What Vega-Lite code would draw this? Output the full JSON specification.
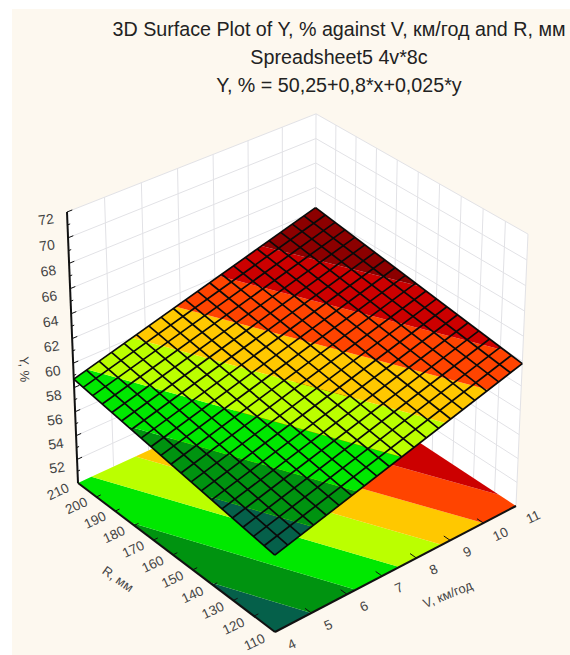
{"$schema":"https://vega.github.io/schema/vega-lite/v6.json","width":558,"height":646,"autosize":"none","padding":{"left":12,"top":9,"right":0,"bottom":0},"background":"white","view":{"fill":"#fdf8ef","stroke":null},
"title":{"text":["3D Surface Plot of Y, % against V, км/год and R, мм","Spreadsheet5 4v*8c","Y, % = 50,25+0,8*x+0,025*y"],"font":"Liberation Sans","fontSize":19.7,"fontWeight":"normal","color":"#222222","lineHeight":28,"anchor":"middle","frame":"group","dx":48,"dy":87,"offset":0},
"data":{"values":[
{"part":"wall","id":"lw","ord":0,"V":4,"R":210,"Y":50},{"part":"wall","id":"lw","ord":1,"V":11,"R":210,"Y":50},{"part":"wall","id":"lw","ord":2,"V":11,"R":210,"Y":72},{"part":"wall","id":"lw","ord":3,"V":4,"R":210,"Y":72},
{"part":"wall","id":"rw","ord":0,"V":11,"R":110,"Y":50},{"part":"wall","id":"rw","ord":1,"V":11,"R":210,"Y":50},{"part":"wall","id":"rw","ord":2,"V":11,"R":210,"Y":72},{"part":"wall","id":"rw","ord":3,"V":11,"R":110,"Y":72},

{"part":"wgrid","id":"ly52","ord":0,"V":4,"R":210,"Y":52},{"part":"wgrid","id":"ly52","ord":1,"V":11,"R":210,"Y":52},{"part":"wgrid","id":"ly54","ord":0,"V":4,"R":210,"Y":54},{"part":"wgrid","id":"ly54","ord":1,"V":11,"R":210,"Y":54},{"part":"wgrid","id":"ly56","ord":0,"V":4,"R":210,"Y":56},{"part":"wgrid","id":"ly56","ord":1,"V":11,"R":210,"Y":56},{"part":"wgrid","id":"ly58","ord":0,"V":4,"R":210,"Y":58},{"part":"wgrid","id":"ly58","ord":1,"V":11,"R":210,"Y":58},{"part":"wgrid","id":"ly60","ord":0,"V":4,"R":210,"Y":60},{"part":"wgrid","id":"ly60","ord":1,"V":11,"R":210,"Y":60},{"part":"wgrid","id":"ly62","ord":0,"V":4,"R":210,"Y":62},{"part":"wgrid","id":"ly62","ord":1,"V":11,"R":210,"Y":62},{"part":"wgrid","id":"ly64","ord":0,"V":4,"R":210,"Y":64},{"part":"wgrid","id":"ly64","ord":1,"V":11,"R":210,"Y":64},{"part":"wgrid","id":"ly66","ord":0,"V":4,"R":210,"Y":66},{"part":"wgrid","id":"ly66","ord":1,"V":11,"R":210,"Y":66},{"part":"wgrid","id":"ly68","ord":0,"V":4,"R":210,"Y":68},{"part":"wgrid","id":"ly68","ord":1,"V":11,"R":210,"Y":68},{"part":"wgrid","id":"ly70","ord":0,"V":4,"R":210,"Y":70},{"part":"wgrid","id":"ly70","ord":1,"V":11,"R":210,"Y":70},{"part":"wgrid","id":"ly72","ord":0,"V":4,"R":210,"Y":72},{"part":"wgrid","id":"ly72","ord":1,"V":11,"R":210,"Y":72},
{"part":"wgrid","id":"ry52","ord":0,"V":11,"R":110,"Y":52},{"part":"wgrid","id":"ry52","ord":1,"V":11,"R":210,"Y":52},{"part":"wgrid","id":"ry54","ord":0,"V":11,"R":110,"Y":54},{"part":"wgrid","id":"ry54","ord":1,"V":11,"R":210,"Y":54},{"part":"wgrid","id":"ry56","ord":0,"V":11,"R":110,"Y":56},{"part":"wgrid","id":"ry56","ord":1,"V":11,"R":210,"Y":56},{"part":"wgrid","id":"ry58","ord":0,"V":11,"R":110,"Y":58},{"part":"wgrid","id":"ry58","ord":1,"V":11,"R":210,"Y":58},{"part":"wgrid","id":"ry60","ord":0,"V":11,"R":110,"Y":60},{"part":"wgrid","id":"ry60","ord":1,"V":11,"R":210,"Y":60},{"part":"wgrid","id":"ry62","ord":0,"V":11,"R":110,"Y":62},{"part":"wgrid","id":"ry62","ord":1,"V":11,"R":210,"Y":62},{"part":"wgrid","id":"ry64","ord":0,"V":11,"R":110,"Y":64},{"part":"wgrid","id":"ry64","ord":1,"V":11,"R":210,"Y":64},{"part":"wgrid","id":"ry66","ord":0,"V":11,"R":110,"Y":66},{"part":"wgrid","id":"ry66","ord":1,"V":11,"R":210,"Y":66},{"part":"wgrid","id":"ry68","ord":0,"V":11,"R":110,"Y":68},{"part":"wgrid","id":"ry68","ord":1,"V":11,"R":210,"Y":68},{"part":"wgrid","id":"ry70","ord":0,"V":11,"R":110,"Y":70},{"part":"wgrid","id":"ry70","ord":1,"V":11,"R":210,"Y":70},{"part":"wgrid","id":"ry72","ord":0,"V":11,"R":110,"Y":72},{"part":"wgrid","id":"ry72","ord":1,"V":11,"R":210,"Y":72},
{"part":"wgrid","id":"lv5","ord":0,"V":5,"R":210,"Y":50},{"part":"wgrid","id":"lv5","ord":1,"V":5,"R":210,"Y":72},{"part":"wgrid","id":"lv6","ord":0,"V":6,"R":210,"Y":50},{"part":"wgrid","id":"lv6","ord":1,"V":6,"R":210,"Y":72},{"part":"wgrid","id":"lv7","ord":0,"V":7,"R":210,"Y":50},{"part":"wgrid","id":"lv7","ord":1,"V":7,"R":210,"Y":72},{"part":"wgrid","id":"lv8","ord":0,"V":8,"R":210,"Y":50},{"part":"wgrid","id":"lv8","ord":1,"V":8,"R":210,"Y":72},{"part":"wgrid","id":"lv9","ord":0,"V":9,"R":210,"Y":50},{"part":"wgrid","id":"lv9","ord":1,"V":9,"R":210,"Y":72},{"part":"wgrid","id":"lv10","ord":0,"V":10,"R":210,"Y":50},{"part":"wgrid","id":"lv10","ord":1,"V":10,"R":210,"Y":72},{"part":"wgrid","id":"lv11","ord":0,"V":11,"R":210,"Y":50},{"part":"wgrid","id":"lv11","ord":1,"V":11,"R":210,"Y":72},
{"part":"wgrid","id":"rr110","ord":0,"V":11,"R":110,"Y":50},{"part":"wgrid","id":"rr110","ord":1,"V":11,"R":110,"Y":72},{"part":"wgrid","id":"rr120","ord":0,"V":11,"R":120,"Y":50},{"part":"wgrid","id":"rr120","ord":1,"V":11,"R":120,"Y":72},{"part":"wgrid","id":"rr130","ord":0,"V":11,"R":130,"Y":50},{"part":"wgrid","id":"rr130","ord":1,"V":11,"R":130,"Y":72},{"part":"wgrid","id":"rr140","ord":0,"V":11,"R":140,"Y":50},{"part":"wgrid","id":"rr140","ord":1,"V":11,"R":140,"Y":72},{"part":"wgrid","id":"rr150","ord":0,"V":11,"R":150,"Y":50},{"part":"wgrid","id":"rr150","ord":1,"V":11,"R":150,"Y":72},{"part":"wgrid","id":"rr160","ord":0,"V":11,"R":160,"Y":50},{"part":"wgrid","id":"rr160","ord":1,"V":11,"R":160,"Y":72},{"part":"wgrid","id":"rr170","ord":0,"V":11,"R":170,"Y":50},{"part":"wgrid","id":"rr170","ord":1,"V":11,"R":170,"Y":72},{"part":"wgrid","id":"rr180","ord":0,"V":11,"R":180,"Y":50},{"part":"wgrid","id":"rr180","ord":1,"V":11,"R":180,"Y":72},{"part":"wgrid","id":"rr190","ord":0,"V":11,"R":190,"Y":50},{"part":"wgrid","id":"rr190","ord":1,"V":11,"R":190,"Y":72},{"part":"wgrid","id":"rr200","ord":0,"V":11,"R":200,"Y":50},{"part":"wgrid","id":"rr200","ord":1,"V":11,"R":200,"Y":72},

{"part":"floor","band":"b56","ord":0,"V":4,"R":110,"Y":50},{"part":"floor","band":"b56","ord":1,"V":5,"R":110,"Y":50},{"part":"floor","band":"b56","ord":2,"V":4,"R":142,"Y":50},
{"part":"floor","band":"b57","ord":0,"V":5,"R":110,"Y":50},{"part":"floor","band":"b57","ord":1,"V":6.25,"R":110,"Y":50},{"part":"floor","band":"b57","ord":2,"V":4,"R":182,"Y":50},{"part":"floor","band":"b57","ord":3,"V":4,"R":142,"Y":50},
{"part":"floor","band":"b58","ord":0,"V":6.25,"R":110,"Y":50},{"part":"floor","band":"b58","ord":1,"V":7.5,"R":110,"Y":50},{"part":"floor","band":"b58","ord":2,"V":4.375,"R":210,"Y":50},{"part":"floor","band":"b58","ord":3,"V":4,"R":210,"Y":50},{"part":"floor","band":"b58","ord":4,"V":4,"R":182,"Y":50},
{"part":"floor","band":"b59","ord":0,"V":7.5,"R":110,"Y":50},{"part":"floor","band":"b59","ord":1,"V":8.75,"R":110,"Y":50},{"part":"floor","band":"b59","ord":2,"V":5.625,"R":210,"Y":50},{"part":"floor","band":"b59","ord":3,"V":4.375,"R":210,"Y":50},
{"part":"floor","band":"b60","ord":0,"V":8.75,"R":110,"Y":50},{"part":"floor","band":"b60","ord":1,"V":10,"R":110,"Y":50},{"part":"floor","band":"b60","ord":2,"V":6.875,"R":210,"Y":50},{"part":"floor","band":"b60","ord":3,"V":5.625,"R":210,"Y":50},
{"part":"floor","band":"b61","ord":0,"V":10,"R":110,"Y":50},{"part":"floor","band":"b61","ord":1,"V":11,"R":110,"Y":50},{"part":"floor","band":"b61","ord":2,"V":11,"R":118,"Y":50},{"part":"floor","band":"b61","ord":3,"V":8.125,"R":210,"Y":50},{"part":"floor","band":"b61","ord":4,"V":6.875,"R":210,"Y":50},
{"part":"floor","band":"b62","ord":0,"V":11,"R":118,"Y":50},{"part":"floor","band":"b62","ord":1,"V":11,"R":158,"Y":50},{"part":"floor","band":"b62","ord":2,"V":9.375,"R":210,"Y":50},{"part":"floor","band":"b62","ord":3,"V":8.125,"R":210,"Y":50},
{"part":"floor","band":"b63","ord":0,"V":11,"R":158,"Y":50},{"part":"floor","band":"b63","ord":1,"V":11,"R":210,"Y":50},{"part":"floor","band":"b63","ord":2,"V":9.375,"R":210,"Y":50},

{"part":"axis","id":"ar","ord":0,"V":4,"R":110,"Y":50},{"part":"axis","id":"ar","ord":1,"V":4,"R":210,"Y":50},{"part":"axis","id":"av","ord":0,"V":4,"R":110,"Y":50},{"part":"axis","id":"av","ord":1,"V":11,"R":110,"Y":50},{"part":"axis","id":"ay","ord":0,"V":4,"R":210,"Y":50},{"part":"axis","id":"ay","ord":1,"V":4,"R":210,"Y":72},

{"part":"tick","id":"t51","ord":0,"V":4,"R":210,"Y":51},{"part":"tick","id":"t51","ord":1,"V":4.07,"R":210,"Y":51},{"part":"tick","id":"t52","ord":0,"V":4,"R":210,"Y":52},{"part":"tick","id":"t52","ord":1,"V":4.14,"R":210,"Y":52},{"part":"tick","id":"t53","ord":0,"V":4,"R":210,"Y":53},{"part":"tick","id":"t53","ord":1,"V":4.07,"R":210,"Y":53},{"part":"tick","id":"t54","ord":0,"V":4,"R":210,"Y":54},{"part":"tick","id":"t54","ord":1,"V":4.14,"R":210,"Y":54},{"part":"tick","id":"t55","ord":0,"V":4,"R":210,"Y":55},{"part":"tick","id":"t55","ord":1,"V":4.07,"R":210,"Y":55},{"part":"tick","id":"t56","ord":0,"V":4,"R":210,"Y":56},{"part":"tick","id":"t56","ord":1,"V":4.14,"R":210,"Y":56},{"part":"tick","id":"t57","ord":0,"V":4,"R":210,"Y":57},{"part":"tick","id":"t57","ord":1,"V":4.07,"R":210,"Y":57},{"part":"tick","id":"t58","ord":0,"V":4,"R":210,"Y":58},{"part":"tick","id":"t58","ord":1,"V":4.14,"R":210,"Y":58},{"part":"tick","id":"t59","ord":0,"V":4,"R":210,"Y":59},{"part":"tick","id":"t59","ord":1,"V":4.07,"R":210,"Y":59},{"part":"tick","id":"t60","ord":0,"V":4,"R":210,"Y":60},{"part":"tick","id":"t60","ord":1,"V":4.14,"R":210,"Y":60},{"part":"tick","id":"t61","ord":0,"V":4,"R":210,"Y":61},{"part":"tick","id":"t61","ord":1,"V":4.07,"R":210,"Y":61},{"part":"tick","id":"t62","ord":0,"V":4,"R":210,"Y":62},{"part":"tick","id":"t62","ord":1,"V":4.14,"R":210,"Y":62},{"part":"tick","id":"t63","ord":0,"V":4,"R":210,"Y":63},{"part":"tick","id":"t63","ord":1,"V":4.07,"R":210,"Y":63},{"part":"tick","id":"t64","ord":0,"V":4,"R":210,"Y":64},{"part":"tick","id":"t64","ord":1,"V":4.14,"R":210,"Y":64},{"part":"tick","id":"t65","ord":0,"V":4,"R":210,"Y":65},{"part":"tick","id":"t65","ord":1,"V":4.07,"R":210,"Y":65},{"part":"tick","id":"t66","ord":0,"V":4,"R":210,"Y":66},{"part":"tick","id":"t66","ord":1,"V":4.14,"R":210,"Y":66},{"part":"tick","id":"t67","ord":0,"V":4,"R":210,"Y":67},{"part":"tick","id":"t67","ord":1,"V":4.07,"R":210,"Y":67},{"part":"tick","id":"t68","ord":0,"V":4,"R":210,"Y":68},{"part":"tick","id":"t68","ord":1,"V":4.14,"R":210,"Y":68},{"part":"tick","id":"t69","ord":0,"V":4,"R":210,"Y":69},{"part":"tick","id":"t69","ord":1,"V":4.07,"R":210,"Y":69},{"part":"tick","id":"t70","ord":0,"V":4,"R":210,"Y":70},{"part":"tick","id":"t70","ord":1,"V":4.14,"R":210,"Y":70},{"part":"tick","id":"t71","ord":0,"V":4,"R":210,"Y":71},{"part":"tick","id":"t71","ord":1,"V":4.07,"R":210,"Y":71},{"part":"tick","id":"t72","ord":0,"V":4,"R":210,"Y":72},{"part":"tick","id":"t72","ord":1,"V":4.14,"R":210,"Y":72},
{"part":"tick","id":"tv5","ord":0,"V":5,"R":110,"Y":50},{"part":"tick","id":"tv5","ord":1,"V":5,"R":113,"Y":50},{"part":"tick","id":"tv6","ord":0,"V":6,"R":110,"Y":50},{"part":"tick","id":"tv6","ord":1,"V":6,"R":113,"Y":50},{"part":"tick","id":"tv7","ord":0,"V":7,"R":110,"Y":50},{"part":"tick","id":"tv7","ord":1,"V":7,"R":113,"Y":50},{"part":"tick","id":"tv8","ord":0,"V":8,"R":110,"Y":50},{"part":"tick","id":"tv8","ord":1,"V":8,"R":113,"Y":50},{"part":"tick","id":"tv9","ord":0,"V":9,"R":110,"Y":50},{"part":"tick","id":"tv9","ord":1,"V":9,"R":113,"Y":50},{"part":"tick","id":"tv10","ord":0,"V":10,"R":110,"Y":50},{"part":"tick","id":"tv10","ord":1,"V":10,"R":113,"Y":50},
{"part":"tick","id":"tr120","ord":0,"V":4,"R":120,"Y":50},{"part":"tick","id":"tr120","ord":1,"V":4.12,"R":120,"Y":50},{"part":"tick","id":"tr130","ord":0,"V":4,"R":130,"Y":50},{"part":"tick","id":"tr130","ord":1,"V":4.12,"R":130,"Y":50},{"part":"tick","id":"tr140","ord":0,"V":4,"R":140,"Y":50},{"part":"tick","id":"tr140","ord":1,"V":4.12,"R":140,"Y":50},{"part":"tick","id":"tr150","ord":0,"V":4,"R":150,"Y":50},{"part":"tick","id":"tr150","ord":1,"V":4.12,"R":150,"Y":50},{"part":"tick","id":"tr160","ord":0,"V":4,"R":160,"Y":50},{"part":"tick","id":"tr160","ord":1,"V":4.12,"R":160,"Y":50},{"part":"tick","id":"tr170","ord":0,"V":4,"R":170,"Y":50},{"part":"tick","id":"tr170","ord":1,"V":4.12,"R":170,"Y":50},{"part":"tick","id":"tr180","ord":0,"V":4,"R":180,"Y":50},{"part":"tick","id":"tr180","ord":1,"V":4.12,"R":180,"Y":50},{"part":"tick","id":"tr190","ord":0,"V":4,"R":190,"Y":50},{"part":"tick","id":"tr190","ord":1,"V":4.12,"R":190,"Y":50},{"part":"tick","id":"tr200","ord":0,"V":4,"R":200,"Y":50},{"part":"tick","id":"tr200","ord":1,"V":4.12,"R":200,"Y":50},

{"part":"surf","band":"b56","ord":0,"V":4,"R":110,"Y":56.2},{"part":"surf","band":"b56","ord":1,"V":5,"R":110,"Y":57},{"part":"surf","band":"b56","ord":2,"V":4,"R":142,"Y":57},
{"part":"surf","band":"b57","ord":0,"V":5,"R":110,"Y":57},{"part":"surf","band":"b57","ord":1,"V":6.25,"R":110,"Y":58},{"part":"surf","band":"b57","ord":2,"V":4,"R":182,"Y":58},{"part":"surf","band":"b57","ord":3,"V":4,"R":142,"Y":57},
{"part":"surf","band":"b58","ord":0,"V":6.25,"R":110,"Y":58},{"part":"surf","band":"b58","ord":1,"V":7.5,"R":110,"Y":59},{"part":"surf","band":"b58","ord":2,"V":4.375,"R":210,"Y":59},{"part":"surf","band":"b58","ord":3,"V":4,"R":210,"Y":58.7},{"part":"surf","band":"b58","ord":4,"V":4,"R":182,"Y":58},
{"part":"surf","band":"b59","ord":0,"V":7.5,"R":110,"Y":59},{"part":"surf","band":"b59","ord":1,"V":8.75,"R":110,"Y":60},{"part":"surf","band":"b59","ord":2,"V":5.625,"R":210,"Y":60},{"part":"surf","band":"b59","ord":3,"V":4.375,"R":210,"Y":59},
{"part":"surf","band":"b60","ord":0,"V":8.75,"R":110,"Y":60},{"part":"surf","band":"b60","ord":1,"V":10,"R":110,"Y":61},{"part":"surf","band":"b60","ord":2,"V":6.875,"R":210,"Y":61},{"part":"surf","band":"b60","ord":3,"V":5.625,"R":210,"Y":60},
{"part":"surf","band":"b61","ord":0,"V":10,"R":110,"Y":61},{"part":"surf","band":"b61","ord":1,"V":11,"R":110,"Y":61.8},{"part":"surf","band":"b61","ord":2,"V":11,"R":118,"Y":62},{"part":"surf","band":"b61","ord":3,"V":8.125,"R":210,"Y":62},{"part":"surf","band":"b61","ord":4,"V":6.875,"R":210,"Y":61},
{"part":"surf","band":"b62","ord":0,"V":11,"R":118,"Y":62},{"part":"surf","band":"b62","ord":1,"V":11,"R":158,"Y":63},{"part":"surf","band":"b62","ord":2,"V":9.375,"R":210,"Y":63},{"part":"surf","band":"b62","ord":3,"V":8.125,"R":210,"Y":62},
{"part":"surf","band":"b63","ord":0,"V":11,"R":158,"Y":63},{"part":"surf","band":"b63","ord":1,"V":11,"R":210,"Y":64.3},{"part":"surf","band":"b63","ord":2,"V":9.375,"R":210,"Y":63},

{"part":"sgrid","id":"v4","ord":0,"V":4,"R":110,"Y":56.2},{"part":"sgrid","id":"v4","ord":1,"V":4,"R":210,"Y":58.7},
{"part":"sgrid","id":"v4.35","ord":0,"V":4.35,"R":110,"Y":56.48},{"part":"sgrid","id":"v4.35","ord":1,"V":4.35,"R":210,"Y":58.98},
{"part":"sgrid","id":"v4.7","ord":0,"V":4.7,"R":110,"Y":56.76},{"part":"sgrid","id":"v4.7","ord":1,"V":4.7,"R":210,"Y":59.26},
{"part":"sgrid","id":"v5.05","ord":0,"V":5.05,"R":110,"Y":57.04},{"part":"sgrid","id":"v5.05","ord":1,"V":5.05,"R":210,"Y":59.54},
{"part":"sgrid","id":"v5.4","ord":0,"V":5.4,"R":110,"Y":57.32},{"part":"sgrid","id":"v5.4","ord":1,"V":5.4,"R":210,"Y":59.82},
{"part":"sgrid","id":"v5.75","ord":0,"V":5.75,"R":110,"Y":57.6},{"part":"sgrid","id":"v5.75","ord":1,"V":5.75,"R":210,"Y":60.1},
{"part":"sgrid","id":"v6.1","ord":0,"V":6.1,"R":110,"Y":57.88},{"part":"sgrid","id":"v6.1","ord":1,"V":6.1,"R":210,"Y":60.38},
{"part":"sgrid","id":"v6.45","ord":0,"V":6.45,"R":110,"Y":58.16},{"part":"sgrid","id":"v6.45","ord":1,"V":6.45,"R":210,"Y":60.66},
{"part":"sgrid","id":"v6.8","ord":0,"V":6.8,"R":110,"Y":58.44},{"part":"sgrid","id":"v6.8","ord":1,"V":6.8,"R":210,"Y":60.94},
{"part":"sgrid","id":"v7.15","ord":0,"V":7.15,"R":110,"Y":58.72},{"part":"sgrid","id":"v7.15","ord":1,"V":7.15,"R":210,"Y":61.22},
{"part":"sgrid","id":"v7.5","ord":0,"V":7.5,"R":110,"Y":59},{"part":"sgrid","id":"v7.5","ord":1,"V":7.5,"R":210,"Y":61.5},
{"part":"sgrid","id":"v7.85","ord":0,"V":7.85,"R":110,"Y":59.28},{"part":"sgrid","id":"v7.85","ord":1,"V":7.85,"R":210,"Y":61.78},
{"part":"sgrid","id":"v8.2","ord":0,"V":8.2,"R":110,"Y":59.56},{"part":"sgrid","id":"v8.2","ord":1,"V":8.2,"R":210,"Y":62.06},
{"part":"sgrid","id":"v8.55","ord":0,"V":8.55,"R":110,"Y":59.84},{"part":"sgrid","id":"v8.55","ord":1,"V":8.55,"R":210,"Y":62.34},
{"part":"sgrid","id":"v8.9","ord":0,"V":8.9,"R":110,"Y":60.12},{"part":"sgrid","id":"v8.9","ord":1,"V":8.9,"R":210,"Y":62.62},
{"part":"sgrid","id":"v9.25","ord":0,"V":9.25,"R":110,"Y":60.4},{"part":"sgrid","id":"v9.25","ord":1,"V":9.25,"R":210,"Y":62.9},
{"part":"sgrid","id":"v9.6","ord":0,"V":9.6,"R":110,"Y":60.68},{"part":"sgrid","id":"v9.6","ord":1,"V":9.6,"R":210,"Y":63.18},
{"part":"sgrid","id":"v9.95","ord":0,"V":9.95,"R":110,"Y":60.96},{"part":"sgrid","id":"v9.95","ord":1,"V":9.95,"R":210,"Y":63.46},
{"part":"sgrid","id":"v10.3","ord":0,"V":10.3,"R":110,"Y":61.24},{"part":"sgrid","id":"v10.3","ord":1,"V":10.3,"R":210,"Y":63.74},
{"part":"sgrid","id":"v10.65","ord":0,"V":10.65,"R":110,"Y":61.52},{"part":"sgrid","id":"v10.65","ord":1,"V":10.65,"R":210,"Y":64.02},
{"part":"sgrid","id":"v11","ord":0,"V":11,"R":110,"Y":61.8},{"part":"sgrid","id":"v11","ord":1,"V":11,"R":210,"Y":64.3},
{"part":"sgrid","id":"r110","ord":0,"V":4,"R":110,"Y":56.2},{"part":"sgrid","id":"r110","ord":1,"V":11,"R":110,"Y":61.8},
{"part":"sgrid","id":"r115","ord":0,"V":4,"R":115,"Y":56.325},{"part":"sgrid","id":"r115","ord":1,"V":11,"R":115,"Y":61.925},
{"part":"sgrid","id":"r120","ord":0,"V":4,"R":120,"Y":56.45},{"part":"sgrid","id":"r120","ord":1,"V":11,"R":120,"Y":62.05},
{"part":"sgrid","id":"r125","ord":0,"V":4,"R":125,"Y":56.575},{"part":"sgrid","id":"r125","ord":1,"V":11,"R":125,"Y":62.175},
{"part":"sgrid","id":"r130","ord":0,"V":4,"R":130,"Y":56.7},{"part":"sgrid","id":"r130","ord":1,"V":11,"R":130,"Y":62.3},
{"part":"sgrid","id":"r135","ord":0,"V":4,"R":135,"Y":56.825},{"part":"sgrid","id":"r135","ord":1,"V":11,"R":135,"Y":62.425},
{"part":"sgrid","id":"r140","ord":0,"V":4,"R":140,"Y":56.95},{"part":"sgrid","id":"r140","ord":1,"V":11,"R":140,"Y":62.55},
{"part":"sgrid","id":"r145","ord":0,"V":4,"R":145,"Y":57.075},{"part":"sgrid","id":"r145","ord":1,"V":11,"R":145,"Y":62.675},
{"part":"sgrid","id":"r150","ord":0,"V":4,"R":150,"Y":57.2},{"part":"sgrid","id":"r150","ord":1,"V":11,"R":150,"Y":62.8},
{"part":"sgrid","id":"r155","ord":0,"V":4,"R":155,"Y":57.325},{"part":"sgrid","id":"r155","ord":1,"V":11,"R":155,"Y":62.925},
{"part":"sgrid","id":"r160","ord":0,"V":4,"R":160,"Y":57.45},{"part":"sgrid","id":"r160","ord":1,"V":11,"R":160,"Y":63.05},
{"part":"sgrid","id":"r165","ord":0,"V":4,"R":165,"Y":57.575},{"part":"sgrid","id":"r165","ord":1,"V":11,"R":165,"Y":63.175},
{"part":"sgrid","id":"r170","ord":0,"V":4,"R":170,"Y":57.7},{"part":"sgrid","id":"r170","ord":1,"V":11,"R":170,"Y":63.3},
{"part":"sgrid","id":"r175","ord":0,"V":4,"R":175,"Y":57.825},{"part":"sgrid","id":"r175","ord":1,"V":11,"R":175,"Y":63.425},
{"part":"sgrid","id":"r180","ord":0,"V":4,"R":180,"Y":57.95},{"part":"sgrid","id":"r180","ord":1,"V":11,"R":180,"Y":63.55},
{"part":"sgrid","id":"r185","ord":0,"V":4,"R":185,"Y":58.075},{"part":"sgrid","id":"r185","ord":1,"V":11,"R":185,"Y":63.675},
{"part":"sgrid","id":"r190","ord":0,"V":4,"R":190,"Y":58.2},{"part":"sgrid","id":"r190","ord":1,"V":11,"R":190,"Y":63.8},
{"part":"sgrid","id":"r195","ord":0,"V":4,"R":195,"Y":58.325},{"part":"sgrid","id":"r195","ord":1,"V":11,"R":195,"Y":63.925},
{"part":"sgrid","id":"r200","ord":0,"V":4,"R":200,"Y":58.45},{"part":"sgrid","id":"r200","ord":1,"V":11,"R":200,"Y":64.05},
{"part":"sgrid","id":"r205","ord":0,"V":4,"R":205,"Y":58.575},{"part":"sgrid","id":"r205","ord":1,"V":11,"R":205,"Y":64.175},
{"part":"sgrid","id":"r210","ord":0,"V":4,"R":210,"Y":58.7},{"part":"sgrid","id":"r210","ord":1,"V":11,"R":210,"Y":64.3},

{"part":"ylab","label":"52","V":3.45,"R":210,"Y":52},{"part":"ylab","label":"54","V":3.45,"R":210,"Y":54},{"part":"ylab","label":"56","V":3.45,"R":210,"Y":56},{"part":"ylab","label":"58","V":3.45,"R":210,"Y":58},{"part":"ylab","label":"60","V":3.45,"R":210,"Y":60},{"part":"ylab","label":"62","V":3.45,"R":210,"Y":62},{"part":"ylab","label":"64","V":3.45,"R":210,"Y":64},{"part":"ylab","label":"66","V":3.45,"R":210,"Y":66},{"part":"ylab","label":"68","V":3.45,"R":210,"Y":68},{"part":"ylab","label":"70","V":3.45,"R":210,"Y":70},{"part":"ylab","label":"72","V":3.45,"R":210,"Y":72},
{"part":"rlab","label":"110","V":3.45,"R":110,"Y":50},{"part":"rlab","label":"120","V":3.45,"R":120,"Y":50},{"part":"rlab","label":"130","V":3.45,"R":130,"Y":50},{"part":"rlab","label":"140","V":3.45,"R":140,"Y":50},{"part":"rlab","label":"150","V":3.45,"R":150,"Y":50},{"part":"rlab","label":"160","V":3.45,"R":160,"Y":50},{"part":"rlab","label":"170","V":3.45,"R":170,"Y":50},{"part":"rlab","label":"180","V":3.45,"R":180,"Y":50},{"part":"rlab","label":"190","V":3.45,"R":190,"Y":50},{"part":"rlab","label":"200","V":3.45,"R":200,"Y":50},{"part":"rlab","label":"210","V":3.45,"R":210,"Y":50},
{"part":"vlab","label":"4","V":4,"R":102,"Y":50},{"part":"vlab","label":"5","V":5,"R":102,"Y":50},{"part":"vlab","label":"6","V":6,"R":102,"Y":50},{"part":"vlab","label":"7","V":7,"R":102,"Y":50},{"part":"vlab","label":"8","V":8,"R":102,"Y":50},{"part":"vlab","label":"9","V":9,"R":102,"Y":50},{"part":"vlab","label":"10","V":10,"R":102,"Y":50},{"part":"vlab","label":"11","V":11,"R":102,"Y":50},
{"part":"ytitle","label":"Y, %","V":2.7,"R":210,"Y":61.2},
{"part":"rtitle","label":"R, мм","V":2.55,"R":161,"Y":50},
{"part":"vtitle","label":"V, км/год","V":7.65,"R":90,"Y":50}
]},
"transform":[
{"calculate":"1+0.0658*(datum.V-4)/7+0.074*(datum.R-110)/100-0.05337*(datum.Y-50)/22","as":"d"},
{"calculate":"(275+274.95*(datum.V-4)/7-191.23*(datum.R-110)/100-15.39*(datum.Y-50)/22)/datum.d","as":"sx"},
{"calculate":"(632-92.7*(datum.V-4)/7-113.3*(datum.R-110)/100-302.3*(datum.Y-50)/22)/datum.d","as":"sy"}
],
"encoding":{
"x":{"field":"sx","type":"quantitative","scale":{"domain":[12,570],"nice":false,"zero":false},"axis":null},
"y":{"field":"sy","type":"quantitative","scale":{"domain":[655,9],"nice":false,"zero":false},"axis":null}
},
"layer":[
{"transform":[{"filter":"datum.part==='wall'"}],"mark":{"type":"line","fill":"white","strokeWidth":0},"encoding":{"detail":{"field":"id"},"order":{"field":"ord"}}},
{"transform":[{"filter":"datum.part==='wgrid'"}],"mark":{"type":"line","color":"#e2e2e6","strokeWidth":1},"encoding":{"detail":{"field":"id"},"order":{"field":"ord"}}},
{"transform":[{"filter":"datum.part==='floor'"}],"mark":{"type":"line","filled":true,"strokeWidth":0},"encoding":{"color":{"field":"band","type":"nominal","scale":{"domain":["b56","b57","b58","b59","b60","b61","b62","b63"],"range":["#05604a","#009310","#00e800","#bbff00","#ffc800","#ff4400","#cc0000","#8c0000"]},"legend":null},"order":{"field":"ord"}}},
{"transform":[{"filter":"datum.part==='axis'"}],"mark":{"type":"line","color":"#111111","strokeWidth":2},"encoding":{"detail":{"field":"id"},"order":{"field":"ord"}}},
{"transform":[{"filter":"datum.part==='tick'"}],"mark":{"type":"line","color":"#111111","strokeWidth":1},"encoding":{"detail":{"field":"id"},"order":{"field":"ord"}}},
{"transform":[{"filter":"datum.part==='surf'"}],"mark":{"type":"line","filled":true,"strokeWidth":0},"encoding":{"color":{"field":"band","type":"nominal","scale":{"domain":["b56","b57","b58","b59","b60","b61","b62","b63"],"range":["#05604a","#009310","#00e800","#bbff00","#ffc800","#ff4400","#cc0000","#8c0000"]},"legend":null},"order":{"field":"ord"}}},
{"transform":[{"filter":"datum.part==='sgrid'"}],"mark":{"type":"line","color":"#0a0a0a","strokeWidth":1.7},"encoding":{"detail":{"field":"id"},"order":{"field":"ord"}}},
{"transform":[{"filter":"datum.part==='ylab'"}],"mark":{"type":"text","font":"Liberation Sans","fontSize":14,"color":"#444444","angle":352,"align":"center","baseline":"middle"},"encoding":{"text":{"field":"label"}}},
{"transform":[{"filter":"datum.part==='rlab'"}],"mark":{"type":"text","font":"Liberation Sans","fontSize":13.5,"color":"#444444","angle":335,"align":"center","baseline":"middle"},"encoding":{"text":{"field":"label"}}},
{"transform":[{"filter":"datum.part==='vlab'"}],"mark":{"type":"text","font":"Liberation Sans","fontSize":13.5,"color":"#444444","angle":335,"align":"center","baseline":"middle"},"encoding":{"text":{"field":"label"}}},
{"transform":[{"filter":"datum.part==='ytitle'"}],"mark":{"type":"text","font":"Liberation Sans","fontSize":13,"color":"#444444","angle":88,"align":"center","baseline":"middle"},"encoding":{"text":{"field":"label"}}},
{"transform":[{"filter":"datum.part==='rtitle'"}],"mark":{"type":"text","font":"Liberation Sans","fontSize":13,"color":"#444444","angle":35,"align":"center","baseline":"middle"},"encoding":{"text":{"field":"label"}}},
{"transform":[{"filter":"datum.part==='vtitle'"}],"mark":{"type":"text","font":"Liberation Sans","fontSize":13,"color":"#444444","angle":338,"align":"center","baseline":"middle"},"encoding":{"text":{"field":"label"}}}
]}
